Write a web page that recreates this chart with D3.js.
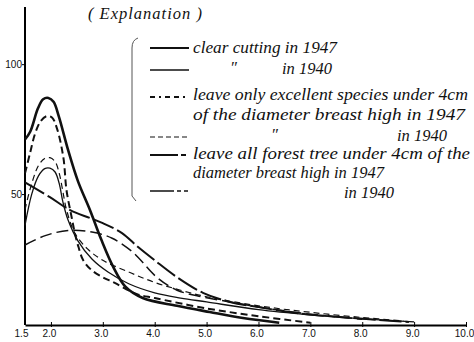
<!DOCTYPE html>
<html>
<head>
<meta charset="utf-8">
<script src="https://cdn.jsdelivr.net/npm/d3@7"></script>
<style>
  html, body { margin: 0; padding: 0; background: #fff; }
  .hand { font-family: "Liberation Serif", "DejaVu Serif", serif; font-style: italic; fill: #111; }
  .tick text { font-family: "Liberation Sans", "DejaVu Sans", sans-serif; font-size: 10px; fill: #111; }
</style>
</head>
<body>
<div id="chart"></div>
<script>
// x: diameter class, y: number of trees
var xTicks = [1.5, 2.0, 3.0, 4.0, 5.0, 6.0, 7.0, 8.0, 9.0, 10.0];
var yTicks = [50, 100];

// clear cutting in 1947
var clear47X = [1.5, 1.6, 1.75, 1.85, 1.95, 2.05, 2.15, 2.33, 2.52, 2.75, 2.98, 3.2, 3.43, 3.77, 4.43, 5.06, 5.7, 6.4];
var clear47Y = [71, 74, 83, 86.5, 87, 85.5, 80, 67, 55, 44, 32, 22, 14.5, 10, 7, 4.6, 2.3, 0.5];
// clear cutting in 1940
var clear40X = [1.5, 1.63, 1.76, 1.88, 1.98, 2.08, 2.16, 2.23, 2.33, 2.52, 2.79, 3.1, 3.5, 4.0, 4.5, 5.0, 6.0, 7.0, 8.0, 9.0];
var clear40Y = [38, 50, 57, 59.8, 60, 58.5, 54, 47, 40, 32, 25, 20, 15.5, 12, 10, 8.5, 5.5, 3.5, 2, 0.8];
// leave only excellent species, 1947
var excel47X = [1.5, 1.6, 1.69, 1.8, 1.92, 2.02, 2.12, 2.24, 2.3, 2.4, 2.46, 2.53, 2.62, 2.78, 2.98, 3.23, 3.66, 4.0, 5.0, 6.0, 7.0];
var excel47Y = [58, 66, 73, 78, 80, 79.5, 75, 64, 51.5, 41, 35, 29.7, 24.6, 20.8, 18.2, 15.8, 11.5, 10, 6, 3, 0.5];
// leave only excellent species, 1940
var excel40X = [1.5, 1.6, 1.76, 1.88, 1.98, 2.08, 2.16, 2.23, 2.3, 2.46, 2.7, 3.0, 3.5, 4.0, 4.5, 5.0, 6.0, 7.0, 8.0, 8.8];
var excel40Y = [44, 52, 61, 63.7, 64, 62.5, 58, 51, 44, 35, 29, 24.5, 20, 16, 13, 10.5, 7, 4.5, 2.5, 1.2];
// leave all forest tree, 1947
var all47X = [1.5, 1.98, 2.37, 2.75, 3.0, 3.37, 3.68, 4.0, 4.43, 4.93, 5.45, 6.0, 6.74, 7.5, 8.3, 8.9];
var all47Y = [54.5, 48.8, 43.8, 40.8, 38.8, 35, 29.6, 24.5, 18, 12, 8.5, 6.5, 4.2, 2.8, 1.6, 0.8];
// leave all forest tree, 1940
var all40X = [1.5, 1.89, 2.33, 2.79, 3.18, 3.58, 4.04, 4.43, 4.93, 5.45, 6.0, 7.0, 8.0];
var all40Y = [30.4, 34, 36, 35.4, 33, 27.6, 18, 13, 10.4, 8.5, 6.5, 3.8, 1.8];

var legendLines = [
  ["clear cutting in 1947"],
  ["\u2033", "in 1940"],
  ["leave only excellent species under 4cm", "of the diameter breast high in 1947"],
  ["\u2033", "in 1940"],
  ["leave all forest tree under 4cm of the", "diameter breast high in 1947"],
  ["in 1940"]
];

var width = 474, height = 342;

var series = [
  { xs: clear47X, ys: clear47Y, w: 2.6, dash: null,   legendDash: null },
  { xs: clear40X, ys: clear40Y, w: 1.3, dash: null,   legendDash: null },
  { xs: excel47X, ys: excel47Y, w: 2.0, dash: "7,4",  legendDash: "5,4,2,4,5,4" },
  { xs: excel40X, ys: excel40Y, w: 1.2, dash: "6,4",  legendDash: "5,3" },
  { xs: all47X,   ys: all47Y,   w: 2.0, dash: "22,4", legendDash: "28,3,5,3" },
  { xs: all40X,   ys: all40Y,   w: 1.5, dash: "12,5", legendDash: "24,3,4,3,4" }
];

// legend layout: sample line y per row; text pieces as [row, piece, x, y, width]
var legendRowY = [48, 70, 97, 137, 155, 191];
var legendText = [
  [0, 0, 193, 53, 144],
  [1, 0, 230, 73, 0],
  [1, 1, 282, 74, 50],
  [2, 0, 193, 100, 275],
  [2, 1, 193, 120, 272],
  [3, 0, 271, 140, 0],
  [3, 1, 397, 141, 50],
  [4, 0, 193, 159, 277],
  [4, 1, 193, 178, 0],
  [5, 0, 344, 198, 50]
];

var svg = d3.select('#chart').append('svg')
  .attr('width', width).attr('height', height);

var x = d3.scaleLinear().domain([1.5, 10]).range([25, 466]);
var y = d3.scaleLinear().domain([0, 122]).range([324, 7]);

// axes
var xAxis = svg.append('g')
  .attr('transform', 'translate(0,325)')
  .call(d3.axisBottom(x).tickValues(xTicks).tickFormat(d3.format('.1f')).tickSize(3).tickSizeOuter(0));
xAxis.select('.domain').attr('stroke-width', 2);
xAxis.selectAll('.tick line').attr('y1', -3).attr('y2', 2);
xAxis.selectAll('.tick text').attr('dy', '0.55em').attr('dx', function(d) { return d === 1.5 ? -4 : -2; });
xAxis.selectAll('.tick').filter(function(d) { return d === 1.5; }).select('line').remove();

var yAxis = svg.append('g')
  .attr('transform', 'translate(25,0)')
  .call(d3.axisLeft(y).tickValues(yTicks).tickFormat(d3.format('d')).tickSize(3).tickSizeOuter(0));
yAxis.select('.domain').attr('stroke-width', 2).attr('d', 'M0,' + y(122) + 'V325');
yAxis.selectAll('.tick text').attr('x', -3);

// curves
var line = d3.line()
  .x(function(d) { return x(d[0]); })
  .y(function(d) { return y(d[1]); })
  .curve(d3.curveCatmullRom.alpha(0.5));

series.forEach(function(s) {
  var pts = s.xs.map(function(v, i) { return [v, s.ys[i]]; });
  svg.append('path')
    .datum(pts)
    .attr('d', line)
    .attr('fill', 'none')
    .attr('stroke', '#111')
    .attr('stroke-width', s.w)
    .attr('stroke-dasharray', s.dash)
    .attr('stroke-linejoin', 'round');
});

// explanation
svg.append('text').attr('class', 'hand')
  .attr('x', 88).attr('y', 19)
  .attr('font-size', 16.5).attr('letter-spacing', 1)
  .text('( Explanation )');

svg.append('path')
  .attr('d', 'M138,38 Q132,40 132,48 V196 L136,201')
  .attr('fill', 'none').attr('stroke', '#555').attr('stroke-width', 1);

var leg = svg.append('g');
series.forEach(function(s, i) {
  var ly = legendRowY[i];
  leg.append('line')
    .attr('x1', 150).attr('x2', 189)
    .attr('y1', ly).attr('y2', ly)
    .attr('stroke', '#111')
    .attr('stroke-width', Math.min(s.w, 1.8))
    .attr('stroke-dasharray', s.legendDash);
});

legendText.forEach(function(t) {
  var el = leg.append('text').attr('class', 'hand')
    .attr('x', t[2]).attr('y', t[3])
    .attr('font-size', 16.5)
    .text(legendLines[t[0]][t[1]]);
  if (t[4]) el.attr('textLength', t[4]).attr('lengthAdjust', 'spacingAndGlyphs');
});
</script>
</body>
</html>
